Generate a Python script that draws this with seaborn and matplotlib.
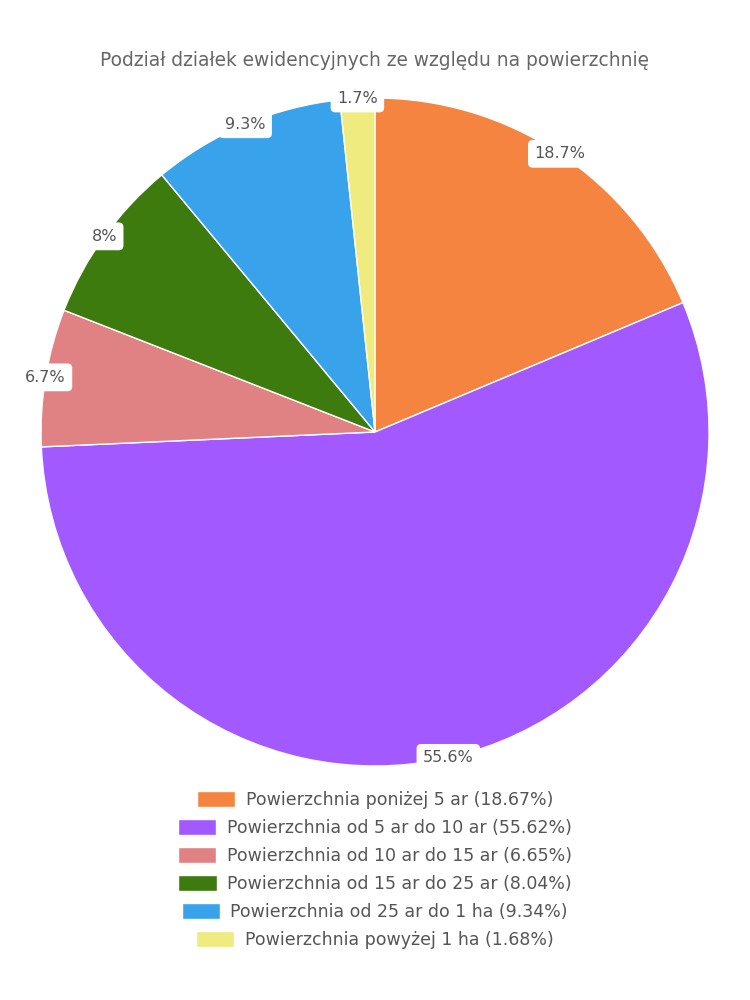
import matplotlib
matplotlib.use("Agg")
import matplotlib.pyplot as plt
import seaborn as sns
import numpy as np
from matplotlib.patches import Patch

categories = [
    "Powierzchnia poniżej 5 ar",
    "Powierzchnia od 5 ar do 10 ar",
    "Powierzchnia od 10 ar do 15 ar",
    "Powierzchnia od 15 ar do 25 ar",
    "Powierzchnia od 25 ar do 1 ha",
    "Powierzchnia powyżej 1 ha",
]
values = [18.67, 55.62, 6.65, 8.04, 9.34, 1.68]
slice_labels = ["18.7%", "55.6%", "6.7%", "8%", "9.3%", "1.7%"]
colors = ["#F4843F", "#A259FF", "#E08284", "#3E7B0E", "#38A3EB", "#F0EB7E"]
title = "Podział działek ewidencyjnych ze względu na powierzchnię"

sns.set_theme(style="white")
plt.rcParams["font.family"] = ["DejaVu Sans"]

fig = plt.figure(figsize=(7.5, 10), dpi=100)
ax = fig.add_axes([0.0547, 0.234, 0.8907, 0.668])

wedges, _ = ax.pie(values, colors=colors, startangle=90, counterclock=False,
                   wedgeprops=dict(edgecolor="white", linewidth=1))
ax.set_xlim(-1, 1)
ax.set_ylim(-1, 1)
ax.set_aspect("auto")
ax.axis("off")

total = sum(values)
cum = 0.0
for v, lab in zip(values, slice_labels):
    mid = (cum + v / 2) / total * 2 * np.pi
    cum += v
    x = np.sin(mid)
    y = np.cos(mid)
    ax.text(x, y, lab, ha="center", va="center", fontsize=11.5, color="#555555",
            bbox=dict(boxstyle="round,pad=0.4,rounding_size=0.3", fc="white", ec="none"),
            zorder=5)

fig.text(0.5, 0.94, title, ha="center", va="center", fontsize=13.4, color="#666666")

fs = 12.5
row_y = [0.200, 0.172, 0.144, 0.116, 0.088, 0.060]
for cat, v, c, yy in zip(categories, values, colors, row_y):
    fig.legend(handles=[Patch(facecolor=c, edgecolor="white")],
               labels=[f"{cat} ({v:.2f}%)"], loc="center",
               bbox_to_anchor=(0.5, yy), frameon=False, fontsize=fs,
               handlelength=27.4 / fs, handleheight=12.5 / fs, handletextpad=7.5 / fs,
               labelcolor="#555555", borderpad=0, borderaxespad=0)

fig.savefig("out.png", dpi=100, facecolor="white")
